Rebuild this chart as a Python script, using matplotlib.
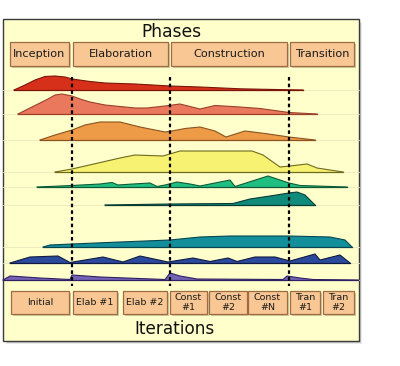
import matplotlib
matplotlib.use("Agg")
import matplotlib.pyplot as plt
from matplotlib.patches import Rectangle

# ---------------- data ----------------
phases = ["Inception", "Elaboration", "Construction", "Transition"]
iterations = ["Initial", "Elab #1", "Elab #2", "Const\n#1", "Const\n#2",
              "Const\n#N", "Tran\n#1", "Tran\n#2"]

business_x = [14, 25, 35, 45, 55, 65, 72, 90, 105, 135, 170, 200, 240, 280, 303]
business_h = [0, 5, 10, 13.5, 14, 13, 11, 8.5, 7, 6, 4, 3, 1.2, 0.4, 0]

requirements_x = [18, 28, 38, 48, 55, 62, 72, 80, 90, 105, 120, 135, 147, 165,
                  180, 200, 215, 240, 260, 289, 317]
requirements_h = [0, 5, 10, 15, 19, 20, 18, 15, 12, 9, 7.5, 6, 6, 8, 10, 5,
                  8.5, 7, 5.5, 1.5, 0]

analysis_x = [40, 55, 72, 85, 100, 120, 140, 165, 172, 185, 200, 215, 226,
              245, 265, 289, 315]
analysis_h = [0, 5, 10, 15, 18, 18, 13, 8, 9, 11.5, 13, 9, 3, 9, 6.5, 3, 0]

implementation_x = [55, 72, 120, 135, 163, 180, 252, 263, 280, 290, 307, 317, 343]
implementation_h = [0, 3, 14, 17, 16, 21, 21, 17, 5, 6, 8, 4, 0]

test_x = [37, 72, 100, 112, 118, 133, 150, 157, 165, 177, 190, 200, 230, 235,
          268, 289, 300, 347]
test_h = [0, 1.5, 3, 4.5, 2, 3, 4, 0.5, 2, 5, 3, 1, 7, 0.5, 11, 4, 1.5, 0]

deployment_x = [105, 170, 233, 250, 270, 289, 297, 305, 310, 315]
deployment_h = [0, 1, 1.5, 6, 9, 12, 13, 10, 5, 0]

config_x = [43, 50, 72, 120, 170, 200, 230, 289, 330, 345, 352]
config_h = [0, 2, 3, 5, 7, 10, 11, 11, 10, 7, 0]

management_x = [10, 30, 58, 70, 103, 123, 140, 168, 193, 210, 228, 237, 255,
                275, 290, 315, 320, 340, 350]
management_h = [0, 6, 7, 0.5, 6, 1, 7, 1, 5, 1.5, 5, 1.5, 6, 6, 2, 9, 3, 8, 0]

environment_x = [3, 10, 40, 70, 72, 100, 165, 170, 180, 197, 283, 287, 300, 313, 358]
environment_h = [0, 4, 2, 0.5, 5, 3, 0.5, 7, 4, 1, 0.5, 4, 2, 0.5, 0]

profiles = [
    (business_x, business_h, "#D6301A", "#7A1408"),
    (requirements_x, requirements_h, "#E9785C", "#9A4028"),
    (analysis_x, analysis_h, "#EE9B48", "#8A5220"),
    (implementation_x, implementation_h, "#F8F272", "#6E6A1E"),
    (test_x, test_h, "#1FBF82", "#0E5A38"),
    (deployment_x, deployment_h, "#108A7A", "#073C34"),
    (config_x, config_h, "#138F9C", "#074650"),
    (management_x, management_h, "#2B4A9C", "#0F1A44"),
    (environment_x, environment_h, "#7462B4", "#2E2062"),
]

# ---------------- layout ----------------
W, H = 400, 366
baselines = [90, 114, 140, 172, 187, 205, 247, 263, 280]
phase_boxes = [(10, 69), (73, 168), (171, 287), (290, 354)]
iter_boxes = [(11, 69), (73, 117), (123, 167), (170, 207), (209, 247),
              (248, 287), (290, 320), (323, 354)]
dash_x = [72, 170, 289]

fig = plt.figure(figsize=(4.0, 3.66), dpi=100)
ax = fig.add_axes([0, 0, 1, 1])
ax.set_xlim(0, W)
ax.set_ylim(H, 0)
ax.axis("off")

# frame shadow + frame
for i, a in enumerate([0.12, 0.2, 0.3]):
    ax.add_patch(Rectangle((6 + i, 22 + i), 356 - 2 * i, 322 - 2 * i,
                           facecolor="#555555", alpha=a, edgecolor="none", zorder=1))
ax.add_patch(Rectangle((3, 19), 356, 322, facecolor="#FFFFCC",
                       edgecolor="#3A3A3A", linewidth=1.0, zorder=2))

# faint horizontal guide lines
for b in baselines:
    ax.plot([3, 359], [b, b], color="#ECE9C2", linewidth=0.6, zorder=2.5)

# title texts
ax.text(171, 32, "Phases", ha="center", va="center", fontsize=12.3,
        family="DejaVu Sans", color="#111111", zorder=5)
ax.text(174, 329, "Iterations", ha="center", va="center", fontsize=12.2,
        family="DejaVu Sans", color="#111111", zorder=5)


def box(x0, x1, y0, y1, label, fs):
    ax.add_patch(Rectangle((x0 + 2, y0 + 2), x1 - x0, y1 - y0,
                           facecolor="#B8A880", alpha=0.6, edgecolor="none", zorder=3))
    ax.add_patch(Rectangle((x0, y0), x1 - x0, y1 - y0, facecolor="#F8C794",
                           edgecolor="#9C6C44", linewidth=0.9, zorder=4))
    ax.text((x0 + x1) / 2, (y0 + y1) / 2, label, ha="center", va="center",
            fontsize=fs, family="DejaVu Sans", color="#1A1A1A",
            linespacing=1.0, zorder=5)


for (x0, x1), lab in zip(phase_boxes, phases):
    box(x0, x1, 42, 66, lab, 8.1)
for (x0, x1), lab in zip(iter_boxes, iterations):
    box(x0, x1, 291, 314, lab, 6.8)

# profiles
for (xs, hs, fc, ec), b in zip(profiles, baselines):
    top = [b - h for h in hs]
    ax.fill_between(xs, [b] * len(xs), top, facecolor=fc, edgecolor="none", zorder=6)
    ax.plot(xs, top, color=ec, linewidth=0.8, zorder=7)
    ax.plot([xs[0], xs[-1]], [b, b], color=ec, linewidth=0.9, zorder=7)

# dashed phase separators
for x in dash_x:
    ax.plot([x, x], [77, 286], color="black", linewidth=1.6,
            linestyle=(0, (1.6, 1.4)), zorder=8)

fig.savefig("out.png", dpi=100, facecolor="white")
